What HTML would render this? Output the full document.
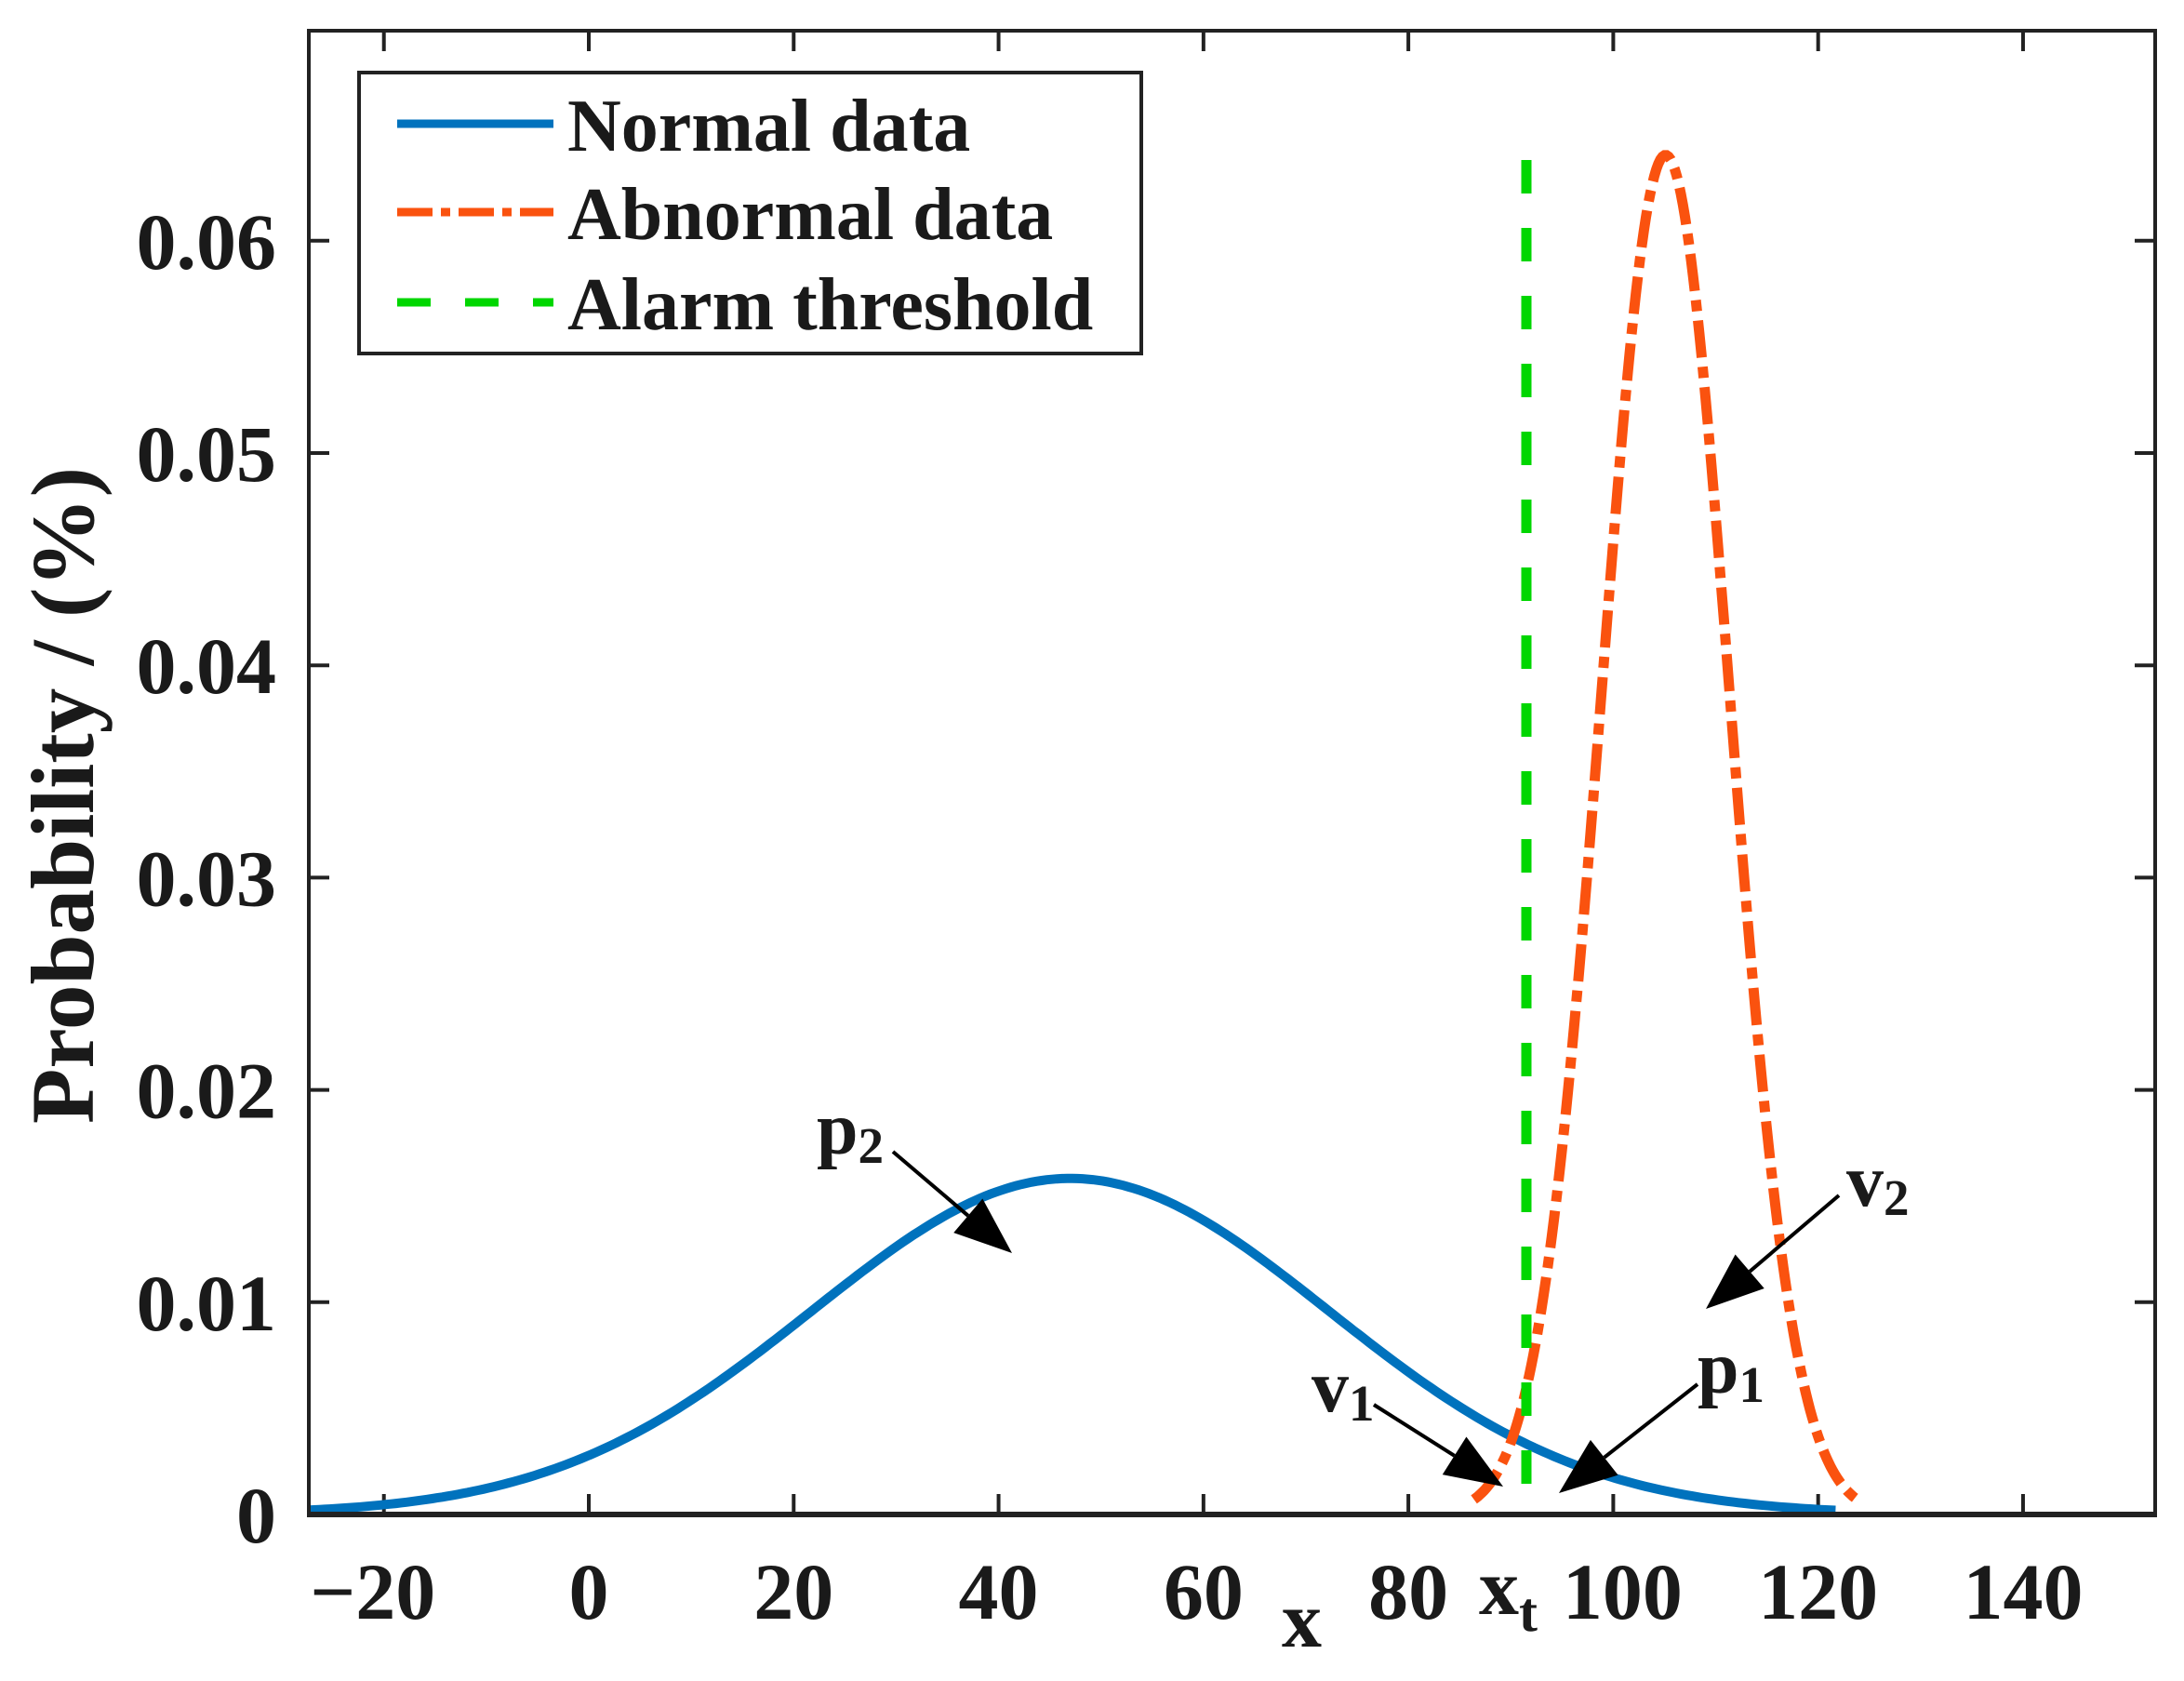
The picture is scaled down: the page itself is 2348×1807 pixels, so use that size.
<!DOCTYPE html>
<html><head><meta charset="utf-8"><style>
html,body{margin:0;padding:0;background:#fff}
svg{display:block}
text{font-family:"Liberation Serif",serif;font-weight:bold;fill:#1a1a1a}
</style></head><body>
<svg id="s" width="2348" height="1807" viewBox="0 0 2348 1807" xmlns="http://www.w3.org/2000/svg">
<rect width="2348" height="1807" fill="#fff"/>
<g id="ticks" stroke="#222" stroke-width="4"></g>
<path id="normal" fill="none" stroke="#0072bd" stroke-width="10"/>
<path id="abn" fill="none" stroke="#fa520f" stroke-width="11" stroke-dasharray="40,10,12,10"/>
<line x1="1641" y1="172" x2="1641" y2="1628" stroke="#00d600" stroke-width="11" stroke-dasharray="36,37"/>
<rect x="332" y="33" width="1985" height="1595" fill="none" stroke="#222" stroke-width="4"/>
<line x1="330" y1="1628" x2="2319" y2="1628" stroke="#222" stroke-width="6"/>
<!-- legend -->
<rect x="386" y="78" width="841" height="302" fill="#fff" stroke="#222" stroke-width="4"/>
<line x1="427" y1="133" x2="595" y2="133" stroke="#0072bd" stroke-width="9"/>
<line x1="427" y1="228" x2="595" y2="228" stroke="#fa520f" stroke-width="9" stroke-dasharray="38,9,10,9"/>
<line x1="427" y1="325" x2="595" y2="325" stroke="#00d600" stroke-width="9" stroke-dasharray="36,37"/>
<g font-size="80">
<text x="610" y="162">Normal data</text>
<text x="610" y="257">Abnormal data</text>
<text x="610" y="354">Alarm threshold</text>
</g>
<g id="labels" font-size="86"></g>
<text transform="translate(100,855) rotate(-90)" text-anchor="middle" font-size="96" textLength="706" lengthAdjust="spacingAndGlyphs">Probability / (%)</text>
<!-- x labels -->
<text x="1378" y="1770" font-size="86">x</text>
<text x="1590" y="1735" font-size="86">x<tspan font-size="60" dy="18">t</tspan></text>
<!-- annotations -->
<g font-size="80">
<text x="878" y="1240">p<tspan font-size="55" dy="10">2</tspan></text>
<text x="1985" y="1296">v<tspan font-size="55" dy="10">2</tspan></text>
<text x="1825" y="1497">p<tspan font-size="55" dy="10">1</tspan></text>
<text x="1410" y="1517">v<tspan font-size="55" dy="10">1</tspan></text>
</g>
<g id="arrows" stroke="#000" stroke-width="4" fill="#000"></g>
</svg>
<script>
const X=x=>633+x*11.014, Y=y=>1628-y*22820;
const g=(x,m,s)=>Math.exp(-0.5*((x-m)/s)**2)/(s*Math.sqrt(2*Math.PI));
let d='';for(let x=-27.3;x<=122;x+=0.5){d+=(d?'L':'M')+X(x).toFixed(1)+','+Y(g(x,47,25.2)).toFixed(1);}
document.getElementById('normal').setAttribute('d',d);
d='';for(let x=86.4;x<=123.8;x+=0.2){d+=(d?'L':'M')+X(x).toFixed(1)+','+Y(g(x,105.1,6.23)).toFixed(1);}
document.getElementById('abn').setAttribute('d',d);
const NS='http://www.w3.org/2000/svg';
const tk=document.getElementById('ticks'),lb=document.getElementById('labels');
function el(p,t,a,txt){const e=document.createElementNS(NS,t);for(const k in a)e.setAttribute(k,a[k]);if(txt!==undefined)e.textContent=txt;p.appendChild(e);return e;}
for(let v=-20;v<=140;v+=20){const x=X(v);el(tk,'line',{x1:x,y1:1628,x2:x,y2:1606});el(tk,'line',{x1:x,y1:33,x2:x,y2:55});
 if(v!==100)el(lb,'text',{x:v<0?x-12:x,y:1740,'text-anchor':'middle'},v<0?'\u221220':String(v));}
el(lb,'text',{x:X(100)+10,y:1740,'text-anchor':'middle'},'100');
for(let i=0;i<=6;i++){const y=Y(i*0.01);el(tk,'line',{x1:332,y1:y,x2:354,y2:y});el(tk,'line',{x1:2317,y1:y,x2:2295,y2:y});
 el(lb,'text',{x:297,y:y+30,'text-anchor':'end'},i===0?'0':'0.0'+i);}
const ar=document.getElementById('arrows');
function arrow(x1,y1,x2,y2){const dx=x2-x1,dy=y2-y1,L=Math.hypot(dx,dy),ux=dx/L,uy=dy/L,h=62,w=24;
 const bx=x2-ux*h,by=y2-uy*h;el(ar,'line',{x1,y1,x2:bx,y2:by});
 el(ar,'polygon',{points:`${x2},${y2} ${bx-uy*w},${by+ux*w} ${bx+uy*w},${by-ux*w}`,stroke:'none'});}
arrow(960,1238,1088,1347);arrow(1977,1285,1834,1407);arrow(1825,1488,1676,1605);arrow(1477,1510,1616,1598);
</script>
</body></html>
